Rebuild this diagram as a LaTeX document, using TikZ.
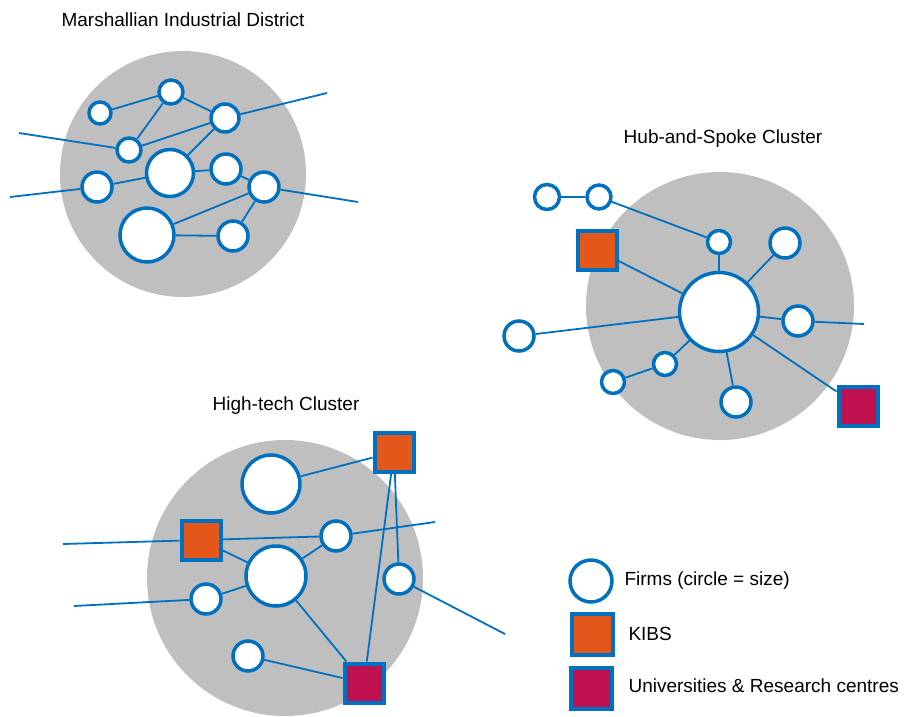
\documentclass[tikz,border=0pt]{standalone}
\usepackage{fontspec}
\setmainfont{Liberation Sans}
\usetikzlibrary{positioning}
\definecolor{netblue}{RGB}{0,112,192}
\definecolor{areagrey}{RGB}{191,191,191}
\definecolor{kibsorange}{RGB}{227,87,27}
\definecolor{unired}{RGB}{191,16,80}

\tikzset{
  firm/.style={circle, draw=netblue, line width=3.5pt, fill=white, inner sep=0pt, minimum size=#1},
  firm/.default=30pt,
  kibs/.style={rectangle, draw=netblue, line width=4pt, fill=kibsorange, inner sep=0pt, minimum size=39pt},
  univ/.style={rectangle, draw=netblue, line width=4pt, fill=unired, inner sep=0pt, minimum size=39pt},
  link/.style={draw=netblue, line width=1.8pt},
  area/.style={fill=areagrey},
  heading/.style={font=\fontsize{19}{22}\selectfont},
  legendtext/.style={font=\fontsize{19}{22}\selectfont, anchor=west}
}

\begin{document}
\begin{tikzpicture}[x=1pt,y=-1pt]
\useasboundingbox (0,0) rectangle (905,716);

% cluster areas
\fill[area] (183,174) circle (123);
\fill[area] (720,306) circle (134);
\fill[area] (285,578) circle (138);

% Marshallian industrial district
\node[heading] (mtitle) at (183,20) {Marshallian Industrial District};
\node[firm=22pt] (m1) at (100,113) {};
\node[firm=24pt] (m2) at (171,92) {};
\node[firm=28pt] (m3) at (225,118) {};
\node[firm=24pt] (m4) at (129,150) {};
\node[firm=47pt] (m5) at (170,173) {};
\node[firm] (m6) at (226,169) {};
\node[firm] (m7) at (97,187) {};
\node[firm] (m8) at (264,187) {};
\node[firm=54pt] (m9) at (147,235) {};
\node[firm] (m10) at (233,236) {};
\coordinate (mw1) at (19,133);
\coordinate (mw2) at (10,197);
\coordinate (me1) at (327,93);
\coordinate (me2) at (358,202);
\draw[link] (m1) -- (m2);
\draw[link] (m2) -- (m4);
\draw[link] (m2) -- (m3);
\draw[link] (m4) -- (m3);
\draw[link] (m3) -- (m5);
\draw[link] (m5) -- (m6);
\draw[link] (m6) -- (m8);
\draw[link] (m7) -- (m5);
\draw[link] (m8) -- (m9);
\draw[link] (m9) -- (m10);
\draw[link] (m10) -- (m8);
\draw[link] (mw1) -- (m4);
\draw[link] (mw2) -- (m7);
\draw[link] (m3) -- (me1);
\draw[link] (m8) -- (me2);

% hub-and-spoke cluster
\node[heading] (htitle) at (723,139) {Hub-and-Spoke Cluster};
\node[firm=79pt] (hub) at (719,312) {};
\node[firm=25pt] (h1) at (547,197) {};
\node[firm=24pt] (h2) at (599,197) {};
\node[kibs] (hk) at (597,250) {};
\node[firm=23pt] (h3) at (719,242) {};
\node[firm] (h4) at (785,243) {};
\node[firm] (h5) at (798,321) {};
\node[firm] (h6) at (519,336) {};
\node[firm=23pt] (h7) at (665,364) {};
\node[firm=23pt] (h8) at (613,382) {};
\node[firm] (h9) at (736,402) {};
\node[univ] (hu) at (858,406) {};
\coordinate (he) at (864,324);
\draw[link] (h1) -- (h2);
\draw[link] (h2) -- (h3);
\draw[link] (h3) -- (hub);
\draw[link] (hk) -- (hub);
\draw[link] (h4) -- (hub);
\draw[link] (h6) -- (hub);
\draw[link] (h5) -- (hub);
\draw[link] (h5) -- (he);
\draw[link] (hub) -- (hu);
\draw[link] (hub) -- (h7);
\draw[link] (h7) -- (h8);
\draw[link] (hub) -- (h9);

% high-tech cluster
\node[heading] (ttitle) at (286,406) {High-tech Cluster};
\node[kibs] (tk1) at (394,452) {};
\node[firm=58pt] (t1) at (271,484) {};
\node[kibs] (tk2) at (201,540) {};
\node[firm] (t2) at (336,536) {};
\node[firm=60pt] (t3) at (276,576) {};
\node[firm] (t4) at (399,579) {};
\node[firm] (t5) at (206,599) {};
\node[firm] (t6) at (248,656) {};
\node[univ] (tu) at (364,683) {};
\coordinate (tw1) at (63,544);
\coordinate (tw2) at (74,606);
\coordinate (te1) at (435,522);
\coordinate (te2) at (505,634);
\draw[link] (t1) -- (tk1);
\draw[link] (tk2) -- (t2);
\draw[link] (tk2) -- (t3);
\draw[link] (t3) -- (t2);
\draw[link] (t2) -- (te1);
\draw[link] (tw1) -- (tk2);
\draw[link] (t5) -- (t3);
\draw[link] (tw2) -- (t5);
\draw[link] (t3) -- (tu);
\draw[link] (t6) -- (tu);
\draw[link] (tk1) -- (tu);
\draw[link] (tk1) -- (t4);
\draw[link] (t4) -- (te2);

% legend
\node[firm=42pt] (lfirm) at (591,581) {};
\node[kibs, minimum size=41pt] (lkibs) at (592,634) {};
\node[univ, minimum size=41pt] (luniv) at (591,688) {};
\node[legendtext] (lfirmtext) at (621,581) {Firms (circle = size)};
\node[legendtext] (lkibstext) at (625,634) {KIBS};
\node[legendtext] (lunivtext) at (625,686) {Universities \& Research centres};
\end{tikzpicture}
\end{document}
